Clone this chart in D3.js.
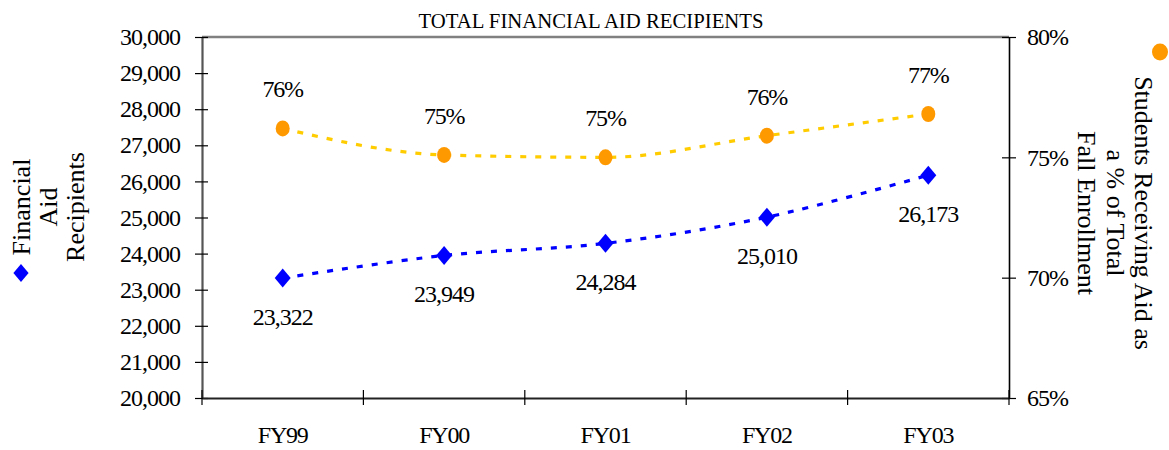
<!DOCTYPE html>
<html><head><meta charset="utf-8">
<script src="https://cdn.jsdelivr.net/npm/d3@7"></script>
<style>
body{margin:0;background:#fff;}
text{font-family:"Liberation Serif","Times New Roman",serif;fill:#000;}
</style></head>
<body><svg id="c" width="1169" height="450"></svg>
<script>
const categories = ["FY99","FY00","FY01","FY02","FY03"];
const recipients = [23322, 23949, 24284, 25010, 26173];
const recipientLabels = ["23,322","23,949","24,284","25,010","26,173"];
const pctAid = [76.2, 75.1, 75.0, 75.9, 76.8];
const pctLabels = ["76%","75%","75%","76%","77%"];
const leftTicks = [20000,21000,22000,23000,24000,25000,26000,27000,28000,29000,30000];
const rightTicks = [65,70,75,80];
const title = "TOTAL FINANCIAL AID RECIPIENTS";
const leftLegend = ["Financial","Aid","Recipients"];
const rightLegend = ["Students Receiving Aid as","a % of Total","Fall Enrollment"];

const svg = d3.select("#c");
const L = 202, R = 1009, T = 37, B = 398;
const x = d3.scaleBand().domain(categories).range([L, R]);
const yL = d3.scaleLinear().domain([20000, 30000]).range([B, T]);
const yR = d3.scaleLinear().domain([65, 80]).range([B, T]);
const cx = d => x(d) + x.bandwidth() / 2;

// title
svg.append("text").attr("x", 591).attr("y", 28).attr("text-anchor", "middle")
  .attr("font-size", 22).attr("textLength", 345).attr("lengthAdjust", "spacingAndGlyphs").text(title);

// top border
svg.append("line").attr("x1", L).attr("x2", R).attr("y1", T).attr("y2", T)
  .attr("stroke", "#808080").attr("stroke-width", 2.5);

// left axis
const gL = svg.append("g").attr("transform", `translate(${L},0)`)
  .call(d3.axisLeft(yL).tickValues(leftTicks).tickFormat(d3.format(",")).tickSize(0).tickPadding(22));
gL.select(".domain").attr("stroke", "#555").attr("stroke-width", 2.2);
gL.selectAll(".tick line").attr("x1", -7).attr("x2", 6).attr("stroke", "#000").attr("stroke-width", 1.2);
gL.selectAll(".tick text").attr("font-size", 24).attr("font-family", "Liberation Serif")
  .attr("letter-spacing", "-1px").attr("fill", "#000");

// right axis
const gR = svg.append("g").attr("transform", `translate(${R},0)`)
  .call(d3.axisRight(yR).tickValues(rightTicks).tickFormat(d => d + "%").tickSize(0).tickPadding(18));
gR.select(".domain").attr("stroke", "#000").attr("stroke-width", 1.6);
gR.selectAll(".tick line").attr("x1", -7).attr("x2", 7).attr("stroke", "#000").attr("stroke-width", 1.2);
gR.selectAll(".tick text").attr("font-size", 24).attr("font-family", "Liberation Serif")
  .attr("letter-spacing", "-1px").attr("fill", "#000");

// bottom axis
const gB = svg.append("g").attr("transform", `translate(0,${B})`)
  .call(d3.axisBottom(x).tickSize(0).tickPadding(28));
gB.select(".domain").attr("stroke", "#222").attr("stroke-width", 2);
gB.selectAll(".tick text").attr("font-size", 24).attr("font-family", "Liberation Serif")
  .attr("letter-spacing", "-1.2px").attr("fill", "#000");
const bounds = categories.map(c => x(c)).concat([R]);
gB.selectAll(".bt").data(bounds).enter().append("line").attr("class", "bt")
  .attr("x1", d => d).attr("x2", d => d).attr("y1", -8).attr("y2", 7)
  .attr("stroke", "#000").attr("stroke-width", 1.2);

// lines
const lineL = d3.line().x((d, i) => cx(categories[i])).y(d => yL(d)).curve(d3.curveCatmullRom.alpha(0.5));
const lineR = d3.line().x((d, i) => cx(categories[i])).y(d => yR(d)).curve(d3.curveMonotoneX);
svg.append("path").attr("d", lineR(pctAid)).attr("fill", "none").attr("stroke", "#FFCC00")
  .attr("stroke-width", 3.2).attr("stroke-dasharray", "6,9");
svg.append("path").attr("d", lineL(recipients)).attr("fill", "none").attr("stroke", "#0000FF")
  .attr("stroke-width", 3.2).attr("stroke-dasharray", "6,9");

// markers
const diamond = "M0,-9.5L8,0L0,9.5L-8,0Z";
svg.selectAll(".dm").data(recipients).enter().append("path").attr("class", "dm")
  .attr("d", diamond).attr("fill", "#0000FF")
  .attr("transform", (d, i) => `translate(${cx(categories[i])},${yL(d)})`);
svg.selectAll(".cm").data(pctAid).enter().append("ellipse").attr("class", "cm")
  .attr("cx", (d, i) => cx(categories[i])).attr("cy", d => yR(d)).attr("rx", 7).attr("ry", 8)
  .attr("fill", "#FF9900");

// data labels
svg.selectAll(".rl").data(recipients).enter().append("text").attr("class", "rl")
  .attr("x", (d, i) => cx(categories[i])).attr("y", d => yL(d) + 47)
  .attr("text-anchor", "middle").attr("font-size", 24).attr("letter-spacing", "-1px")
  .text((d, i) => recipientLabels[i]);
svg.selectAll(".pl").data(pctAid).enter().append("text").attr("class", "pl")
  .attr("x", (d, i) => cx(categories[i])).attr("y", d => yR(d) - 31)
  .attr("text-anchor", "middle").attr("font-size", 24).attr("letter-spacing", "-1.2px")
  .text((d, i) => pctLabels[i]);

// left legend
svg.append("path").attr("d", diamond).attr("fill", "#0000FF").attr("transform", "translate(21,273) scale(0.95)");
const ll = svg.append("g").attr("transform", "translate(0,207) rotate(-90)");
leftLegend.forEach((t, i) => {
  ll.append("text").attr("x", 0).attr("y", 30 + i * 27).attr("text-anchor", "middle")
    .attr("font-size", 26).text(t);
});

// right legend
svg.append("ellipse").attr("cx", 1160).attr("cy", 52).attr("rx", 8).attr("ry", 8.5).attr("fill", "#FF9900");
const rl = svg.append("g").attr("transform", "translate(0,213) rotate(90)");
rightLegend.forEach((t, i) => {
  rl.append("text").attr("x", 0).attr("y", -1135 + i * 28.5).attr("text-anchor", "middle")
    .attr("font-size", 26).text(t);
});
</script></body></html>
